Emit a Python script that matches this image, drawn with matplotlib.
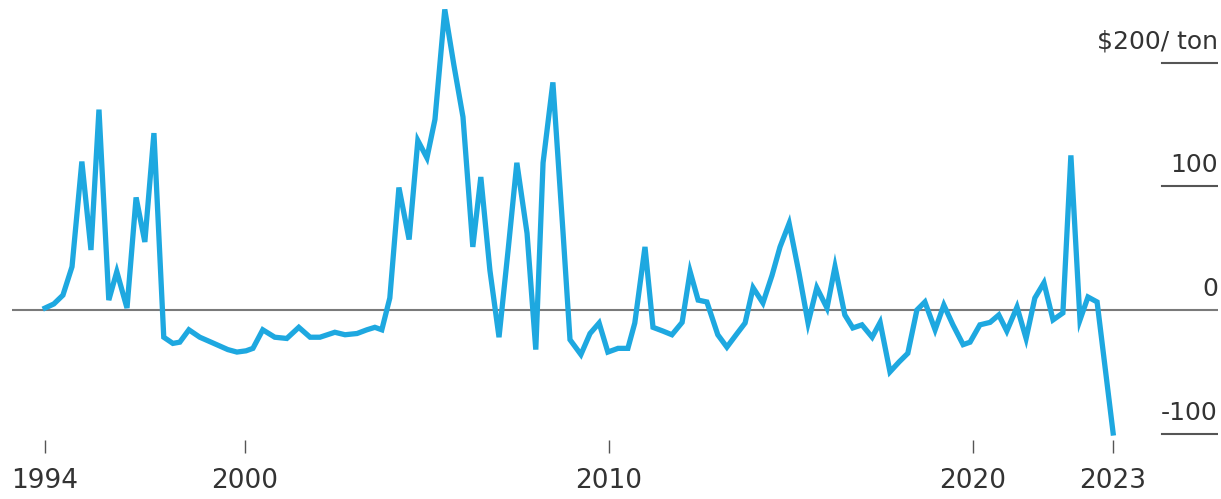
import matplotlib
matplotlib.use("Agg")
import matplotlib.pyplot as plt
import matplotlib.transforms as mtransforms

# quarterly premium, $/ton (x as decimal year)
years = [
    1994.51, 1994.75, 1995.00, 1995.25, 1995.52, 1995.77, 1995.99, 1996.26,
    1996.48, 1996.76, 1997.01, 1997.25, 1997.50, 1997.77, 1998.02, 1998.21,
    1998.46, 1998.76, 1999.07, 1999.53, 1999.78, 2000.03, 2000.22, 2000.49,
    2000.82, 2001.15, 2001.48, 2001.79, 2002.06, 2002.47, 2002.75, 2003.08,
    2003.35, 2003.57, 2003.76, 2003.98, 2004.23, 2004.51, 2004.75, 2005.00,
    2005.22, 2005.49, 2005.74, 2005.99, 2006.26, 2006.48, 2006.73, 2006.98,
    2007.23, 2007.47, 2007.75, 2007.99, 2008.19, 2008.46, 2008.74, 2008.93,
    2009.23, 2009.48, 2009.73, 2009.97, 2010.25, 2010.52, 2010.71, 2010.99,
    2011.21, 2011.48, 2011.73, 2012.01, 2012.23, 2012.45, 2012.69, 2012.99,
    2013.24, 2013.52, 2013.74, 2013.96, 2014.23, 2014.48, 2014.70, 2014.95,
    2015.22, 2015.47, 2015.71, 2015.99, 2016.21, 2016.48, 2016.70, 2016.95,
    2017.23, 2017.45, 2017.72, 2017.97, 2018.21, 2018.46, 2018.68, 2018.96,
    2019.20, 2019.45, 2019.73, 2019.92, 2020.19, 2020.47, 2020.71, 2020.93,
    2021.21, 2021.46, 2021.70, 2021.95, 2022.20, 2022.47, 2022.69, 2022.94,
    2023.16, 2023.41, 2023.85,
]
premium = [
    1.6, 4.9, 12, 35, 120, 48.5, 162, 8,
    31, 1.6, 91, 55, 143, -22, -27, -26,
    -16, -22, -26, -32, -34, -33, -31, -16,
    -22, -23, -14, -22, -22, -18, -20, -19,
    -16, -14, -16, 9.7, 99, 57, 137, 123,
    154, 243, 198, 156, 51, 107.5, 32, -22,
    48.5, 119, 62, -32, 119, 184, 62, -24,
    -36, -19, -10.5, -34, -31, -31, -10.5, 51,
    -14, -17, -20, -10, 31, 8, 6.5, -20,
    -30, -19, -10.5, 18, 5.7, 28, 51, 70,
    30, -10.5, 18, 1.6, 35, -4, -14.5, -12,
    -22, -10, -50, -42, -35, 0, 6.5, -16,
    4, -12, -28, -26, -12, -10, -4, -17,
    2.4, -23, 9.7, 22, -8, -2.4, 125, -8,
    10.5, 6.5, -99.4,
]

tick_years = [years[0], 2000, 2010, 2020, years[-1]]
tick_labels = ["1994", "2000", "2010", "2020", "2023"]
y_levels = [200, 100, 0, -100]
y_labels = ["$200/ ton", "100", "0", "-100"]

plt.rcParams["font.family"] = ["DejaVu Sans"]
text_color = "#333333"
line_blue = "#1ea8e0"

fig = plt.figure(figsize=(12.21, 4.99), dpi=100)
ax = fig.add_axes([0.0098, 0.1182, 0.9877, 0.8818])

ax.plot(years, premium, color=line_blue, lw=3.8, solid_joinstyle="miter", zorder=3)
ax.axhline(0, color="#7a7a7a", lw=1.5, zorder=2)

ax.set_xlim(1993.60, 2026.73)
ax.set_ylim(-105.1, 250.6)

# short rules under the value labels on the right
seg_start = 0.9536
for lvl, lab in zip(y_levels, y_labels):
    if lvl != 0:
        ax.axhline(lvl, xmin=seg_start, xmax=1.0, color="#555555", lw=1.5)
    off = mtransforms.offset_copy(ax.get_yaxis_transform(), fig=fig, x=0, y=10, units="points")
    ax.text(1.0, lvl, lab.replace("$", r"\$"), transform=off, ha="right", va="baseline",
            fontsize=18, color=text_color)

ax.set_xticks(tick_years)
ax.set_xticklabels(tick_labels)
ax.tick_params(axis="x", direction="out", length=9, width=1, color="#555555",
               pad=11, labelsize=19, labelcolor=text_color)
ax.set_yticks([])
for s in ax.spines.values():
    s.set_visible(False)

fig.savefig("out.png", dpi=100)
